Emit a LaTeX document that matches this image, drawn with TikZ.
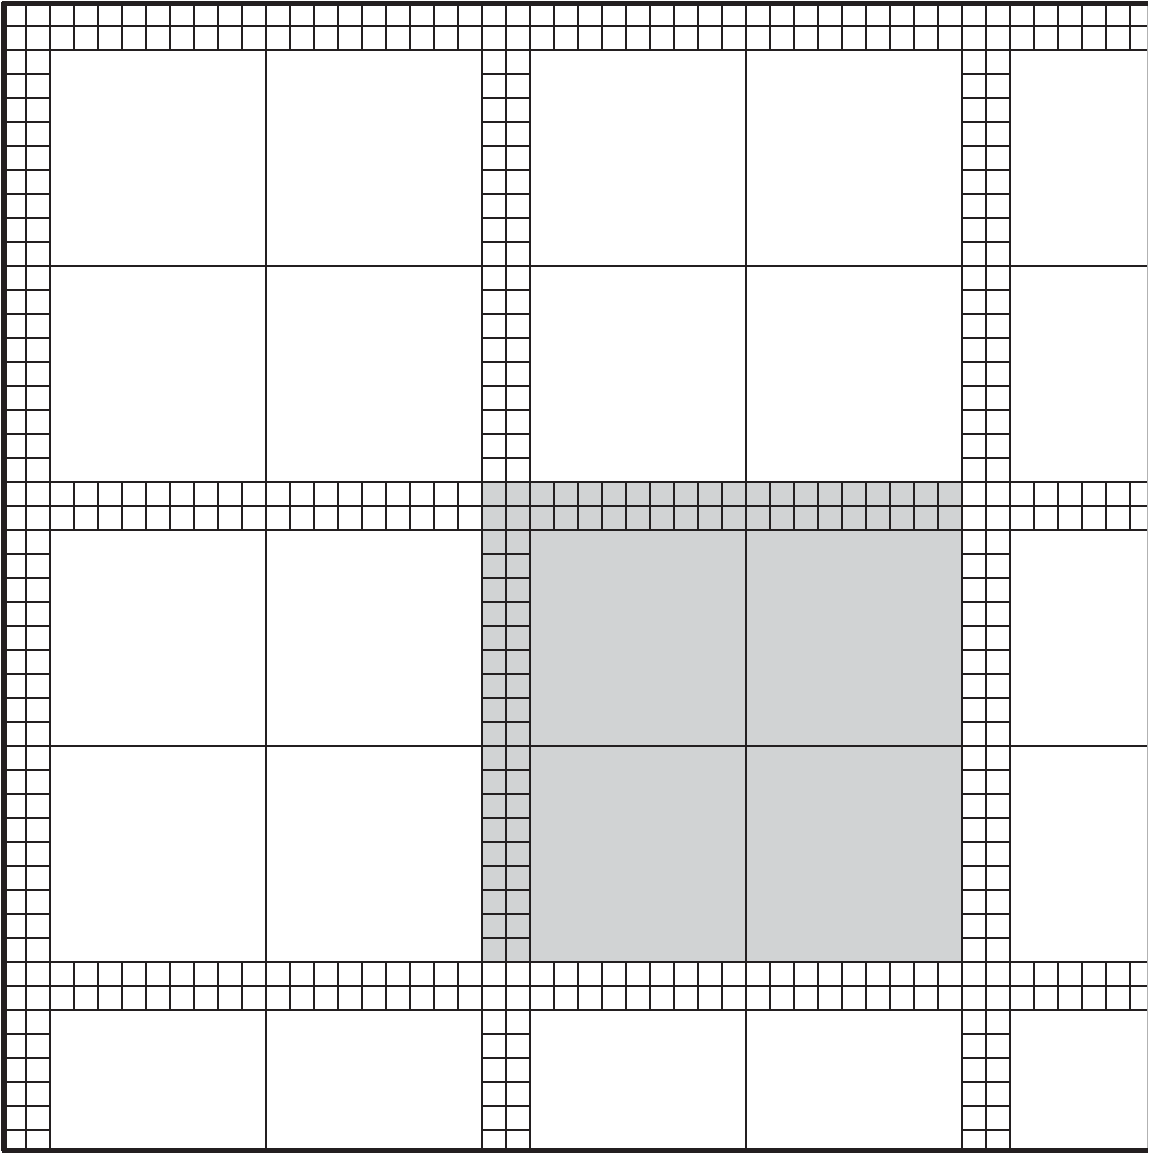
\documentclass[tikz,border=0pt]{standalone}
\usepackage{tikz}
\definecolor{inkblack}{RGB}{35,31,32}
\definecolor{panelgray}{RGB}{209,211,212}

\begin{document}
\begin{tikzpicture}[
      x=0.5cm, y=-0.5cm,
      tile/.style={draw=inkblack, line width=1pt},
      frame/.style={draw=inkblack, line width=2.8pt},
      rim/.style={draw=gray!60, line width=0.6pt},
      shade/.style={fill=panelgray}]

    \def\W{47.75}
    \def\H{47.87}
    \useasboundingbox (-0.083,-0.083) rectangle (47.79,47.96);

    % highlighted block
    \fill[shade] (20,20) rectangle (40,40);

    % dividers of the large cells
    \foreach \s in {11,31} {
        \draw[tile] (\s,0) -- (\s,\H);
        \draw[tile] (0,\s) -- (\W,\s);
    }

    % strips of small tiles
    \foreach \s in {0,20,40} {
        \foreach \k in {0,1,2} {
            \draw[tile] (\s+\k,0) -- (\s+\k,\H);
            \draw[tile] (0,\s+\k) -- (\W,\s+\k);
        }
        \foreach \j in {0,...,47} {
            \draw[tile] (\s,\j) -- (\s+2,\j);
            \draw[tile] (\j,\s) -- (\j,\s+2);
        }
    }

    % outer frame
    \draw[rim] (\W,0) -- (\W,\H);
    \draw[frame] (\W,0.05) -- (0.1,0.05) -- (0.1,\H) -- (\W,\H);

\end{tikzpicture}
\end{document}
